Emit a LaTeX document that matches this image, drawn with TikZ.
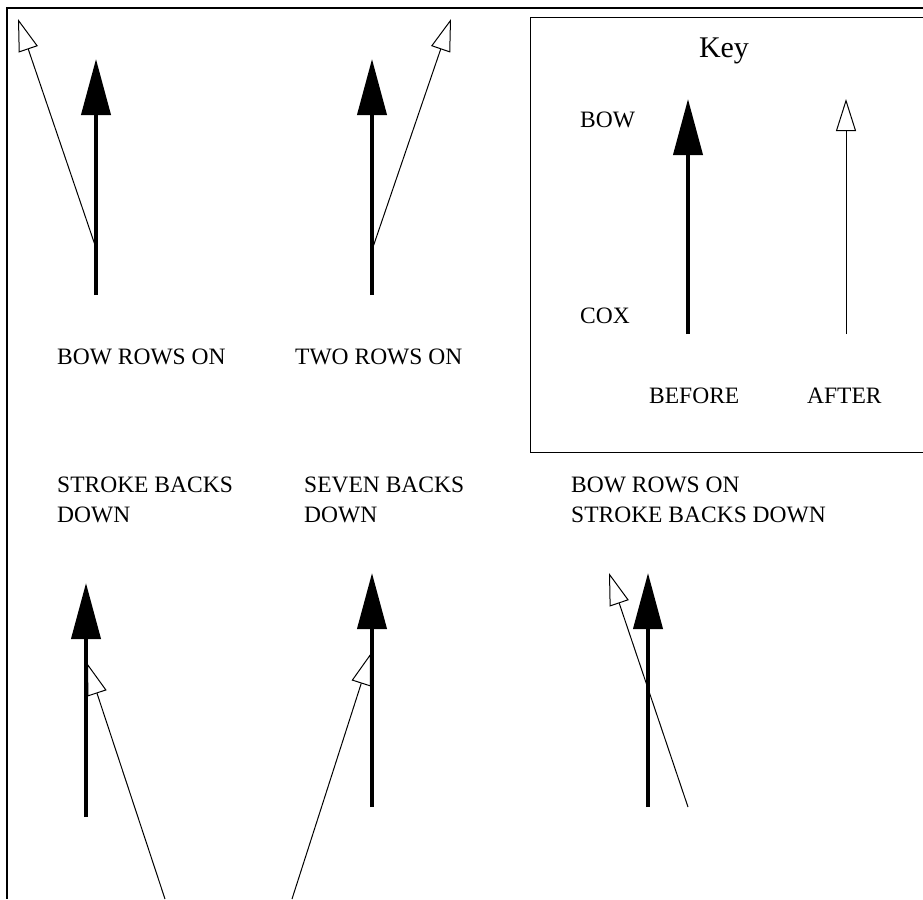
\documentclass[tikz,border=0pt]{standalone}
\usepackage{fontspec}
\setmainfont{Liberation Serif}
\usetikzlibrary{arrows.meta}

\tikzset{
  before/.style={line width=4pt, -{Triangle[length=56pt, width=29pt]}},
  after/.style={line width=1pt, -{Triangle[open, length=32pt, width=20pt]}},
  frameline/.style={line width=1.4pt},
  keyline/.style={line width=1pt},
  label/.style={anchor=base west, inner sep=0pt, align=left,
                font=\fontsize{23.5}{29.5}\selectfont},
  keytitle/.style={anchor=base, inner sep=0pt, font=\fontsize{30}{36}\selectfont}
}

\begin{document}
\begin{tikzpicture}[x=1pt, y=-1pt]
  \useasboundingbox (0,0) rectangle (923,899);

  % outer frame (top and left edges)
  \coordinate (frTR) at (923,8);
  \coordinate (frTL) at (7,8);
  \coordinate (frBL) at (7,899);
  \draw[frameline] (frTR) -- (frTL) -- (frBL);

  % key box
  \coordinate (kTR) at (923,18);
  \coordinate (kTL) at (530,18);
  \coordinate (kBL) at (530,452);
  \coordinate (kBR) at (923,452);
  \draw[keyline] (kTR) -- (kTL) -- (kBL) -- (kBR);

  \node[keytitle] (keyt) at (724,58) {Key};
  \node[label] (kbow) at (580,127) {BOW};
  \node[label] (kcox) at (580,323) {COX};
  \node[label] (kbef) at (649,403) {BEFORE};
  \node[label] (kaft) at (807,403) {AFTER};

  \coordinate (kb0) at (688,334); \coordinate (kb1) at (688,99);
  \coordinate (ka0) at (846,334); \coordinate (ka1) at (846,99);
  \draw[before] (kb0) -- (kb1);
  \draw[after]  (ka0) -- (ka1);

  % bow rows on
  \coordinate (p1b0) at (96,295); \coordinate (p1b1) at (96,59);
  \coordinate (p1a0) at (96,248); \coordinate (p1a1) at (18,19);
  \draw[before] (p1b0) -- (p1b1);
  \draw[after]  (p1a0) -- (p1a1);
  \node[label] (t1) at (57,364) {BOW ROWS ON};

  % two rows on
  \coordinate (p2b0) at (372,295); \coordinate (p2b1) at (372,59);
  \coordinate (p2a0) at (372,250); \coordinate (p2a1) at (451,19);
  \draw[before] (p2b0) -- (p2b1);
  \draw[after]  (p2a0) -- (p2a1);
  \node[label] (t2) at (295,364) {TWO ROWS ON};

  % stroke backs down
  \coordinate (p3b0) at (86,817); \coordinate (p3b1) at (86,583);
  \coordinate (p3a0) at (165,899); \coordinate (p3a1) at (87,663);
  \draw[before] (p3b0) -- (p3b1);
  \draw[after]  (p3a0) -- (p3a1);
  \node[label] (t3) at (57,522) {STROKE BACKS\\DOWN};

  % seven backs down
  \coordinate (p4b0) at (372,807); \coordinate (p4b1) at (372,573);
  \coordinate (p4a0) at (292,899); \coordinate (p4a1) at (371,653);
  \draw[before] (p4b0) -- (p4b1);
  \draw[after]  (p4a0) -- (p4a1);
  \node[label] (t4) at (304,522) {SEVEN BACKS\\DOWN};

  % bow rows on, stroke backs down
  \coordinate (p5b0) at (648,807); \coordinate (p5b1) at (648,573);
  \coordinate (p5a0) at (688,807); \coordinate (p5a1) at (609,573);
  \draw[before] (p5b0) -- (p5b1);
  \draw[after]  (p5a0) -- (p5a1);
  \node[label] (t5) at (571,522) {BOW ROWS ON\\STROKE BACKS DOWN};
\end{tikzpicture}
\end{document}
